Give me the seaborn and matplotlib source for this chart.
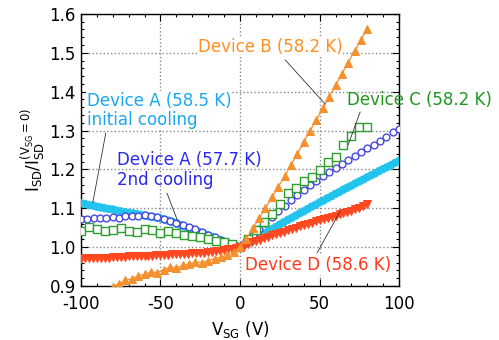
import numpy as np
import pandas as pd
import seaborn as sns
import matplotlib.pyplot as plt
from matplotlib.ticker import MultipleLocator

# Device A, initial cooling (58.5 K)
va_init = np.arange(-100, 100.1, 2.5)
ia_init = [1.113, 1.111, 1.108, 1.107, 1.104, 1.102, 1.100, 1.098, 1.097, 1.094,
           1.092, 1.090, 1.088, 1.087, 1.085, 1.083, 1.081, 1.079, 1.078, 1.076,
           1.074, 1.071, 1.068, 1.065, 1.061, 1.057, 1.053, 1.049, 1.046, 1.042,
           1.038, 1.034, 1.030, 1.026, 1.022, 1.018, 1.014, 1.010, 1.006, 1.003,
           1.000,
           1.005, 1.010, 1.016, 1.022, 1.028, 1.034, 1.040, 1.046, 1.052, 1.058,
           1.064, 1.070, 1.075, 1.081, 1.087, 1.092, 1.098, 1.104, 1.109, 1.115,
           1.120, 1.126, 1.131, 1.137, 1.142, 1.148, 1.153, 1.158, 1.164, 1.169,
           1.174, 1.180, 1.185, 1.190, 1.196, 1.201, 1.206, 1.211, 1.217, 1.222]

# Device A, 2nd cooling (57.7 K)
va_2nd = np.arange(-100, 100.1, 4)
ia_2nd = [1.073, 1.072, 1.075, 1.074, 1.076, 1.077, 1.076, 1.079, 1.080, 1.081,
          1.082, 1.080, 1.077, 1.073, 1.068, 1.063, 1.058, 1.052, 1.046, 1.039,
          1.032, 1.025, 1.018, 1.011, 1.005, 1.000,
          1.015, 1.030, 1.046, 1.062, 1.077, 1.092, 1.107, 1.121, 1.135, 1.148,
          1.160, 1.171, 1.182, 1.193, 1.203, 1.213, 1.223, 1.234, 1.244, 1.254,
          1.264, 1.274, 1.284, 1.295, 1.305]

# Device C (58.2 K)
vc = np.arange(-100, 80.1, 5)
ic = [1.042, 1.051, 1.047, 1.041, 1.044, 1.048, 1.041, 1.038, 1.047, 1.043,
      1.037, 1.041, 1.035, 1.030, 1.028, 1.026, 1.020, 1.016, 1.012, 1.008,
      1.000,
      1.022, 1.045, 1.065, 1.085, 1.112, 1.138, 1.152, 1.170, 1.180, 1.198,
      1.218, 1.232, 1.262, 1.285, 1.310, 1.310]

# Device D (58.6 K)
vd = np.arange(-100, 80.1, 2.5)
i_d = [0.970, 0.971, 0.971, 0.972, 0.972, 0.973, 0.973, 0.973, 0.974, 0.974,
       0.975, 0.975, 0.976, 0.976, 0.976, 0.977, 0.977, 0.978, 0.978, 0.979,
       0.979, 0.980, 0.980, 0.981, 0.981, 0.982, 0.982, 0.983, 0.984, 0.984,
       0.985, 0.986, 0.987, 0.988, 0.989, 0.990, 0.992, 0.994, 0.996, 0.998,
       1.000,
       1.004, 1.008, 1.012, 1.016, 1.019, 1.023, 1.026, 1.030, 1.033, 1.037,
       1.040, 1.044, 1.047, 1.050, 1.053, 1.057, 1.060, 1.063, 1.066, 1.069,
       1.072, 1.075, 1.078, 1.081, 1.084, 1.087, 1.090, 1.093, 1.097, 1.101,
       1.105, 1.110]

# Device B (58.2 K)
vb = np.arange(-80, 80.1, 4)
ib = [0.898, 0.906, 0.915, 0.918, 0.926, 0.930, 0.936, 0.934, 0.942, 0.948,
      0.946, 0.953, 0.957, 0.961, 0.960, 0.965, 0.970, 0.974, 0.979, 0.988,
      1.000,
      1.022, 1.048, 1.074, 1.101, 1.128, 1.155, 1.182, 1.211, 1.240, 1.270,
      1.299, 1.328, 1.357, 1.387, 1.416, 1.446, 1.475, 1.505, 1.534, 1.562]

plt.rcParams['font.family'] = 'DejaVu Sans'
plt.rcParams['mathtext.default'] = 'regular'
plt.rcParams['axes.unicode_minus'] = False

fig, ax = plt.subplots(figsize=(4.99, 3.40), dpi=100)
fig.subplots_adjust(left=0.162, right=0.80, bottom=0.159, top=0.959)

sns.scatterplot(x=va_init, y=ia_init, ax=ax, marker='o', s=36, color='#22C4EE',
                edgecolor='none', zorder=3)
sns.scatterplot(x=va_2nd, y=ia_2nd, ax=ax, marker='o', s=24, facecolor='white',
                edgecolor='#4848DD', linewidth=1.0, zorder=4)
sns.scatterplot(x=vc, y=ic, ax=ax, marker='s', s=32, facecolor='white',
                edgecolor='#2E9E2E', linewidth=1.0, zorder=5)
sns.lineplot(x=vd, y=i_d, ax=ax, marker='v', markersize=5.5, color='#FF4820',
             markeredgecolor='#FF4820', lw=0.8, zorder=6)
sns.lineplot(x=vb, y=ib, ax=ax, marker='^', markersize=5.8, color='#F5902E',
             markeredgecolor='#F5902E', lw=0.9, zorder=7)

ax.set_xlim(-100, 100)
ax.set_ylim(0.9, 1.6)
ax.xaxis.set_major_locator(MultipleLocator(50))
ax.xaxis.set_minor_locator(MultipleLocator(10))
ax.yaxis.set_major_locator(MultipleLocator(0.1))
ax.yaxis.set_minor_locator(MultipleLocator(0.02))
ax.yaxis.set_major_formatter(plt.FormatStrFormatter('%.1f'))
ax.tick_params(which='both', direction='in', top=True, right=True, labelsize=12,
               width=0.8, color='black')
ax.tick_params(which='major', length=5)
ax.tick_params(which='minor', length=2.5)
ax.tick_params(axis='x', pad=6.5)
ax.grid(True, which='major', linestyle=':', color='#888888', lw=1.0)
ax.set_axisbelow(True)
for sp in ax.spines.values():
    sp.set_linewidth(1.0)
    sp.set_color('black')

ax.set_xlabel(r'$V_{SG}$ (V)', fontsize=12, labelpad=4)
ax.set_ylabel(r'$I_{SD}/I_{SD}^{(V_{SG}=0)}$', fontsize=12, labelpad=2)

# labels
bg = dict(facecolor='white', edgecolor='none', pad=0.5)
ax.text(-26.4, 1.515, 'Device B (58.2 K)', color='#FF9020', fontsize=12,
        va='center', ha='left', bbox=bg, zorder=8)
ax.text(67.1, 1.379, 'Device C (58.2 K)', color='#1E961E', fontsize=12,
        va='center', ha='left', clip_on=False, zorder=8)
ax.text(-96.2, 1.352, 'Device A (58.5 K)\ninitial cooling', color='#1AA8F0',
        fontsize=12, va='center', ha='left', linespacing=1.1, bbox=bg, zorder=8)
ax.text(-77.4, 1.198, 'Device A (57.7 K)\n2nd cooling', color='#2A2AEE',
        fontsize=12, va='center', ha='left', linespacing=1.1, zorder=8)
ax.text(3.1, 0.954, 'Device D (58.6 K)', color='#FF3A1A', fontsize=12,
        va='center', ha='left', bbox=bg, zorder=8)

# leader lines
line = dict(arrowstyle='-', color='#333333', lw=0.6, shrinkA=0, shrinkB=0)
ax.annotate('', xy=(53.5, 1.368), xytext=(28.3, 1.482), arrowprops=line, zorder=8)
ax.annotate('', xy=(67.9, 1.263), xytext=(75.5, 1.348), arrowprops=line, zorder=8)
ax.annotate('', xy=(-92.5, 1.114), xytext=(-84.3, 1.294), arrowprops=line, zorder=8)
ax.annotate('', xy=(-39, 1.065), xytext=(-45.9, 1.139), arrowprops=line, zorder=8)
ax.annotate('', xy=(62.9, 1.092), xytext=(48.4, 0.985), arrowprops=line, zorder=8)

plt.savefig('out.png', dpi=100)
